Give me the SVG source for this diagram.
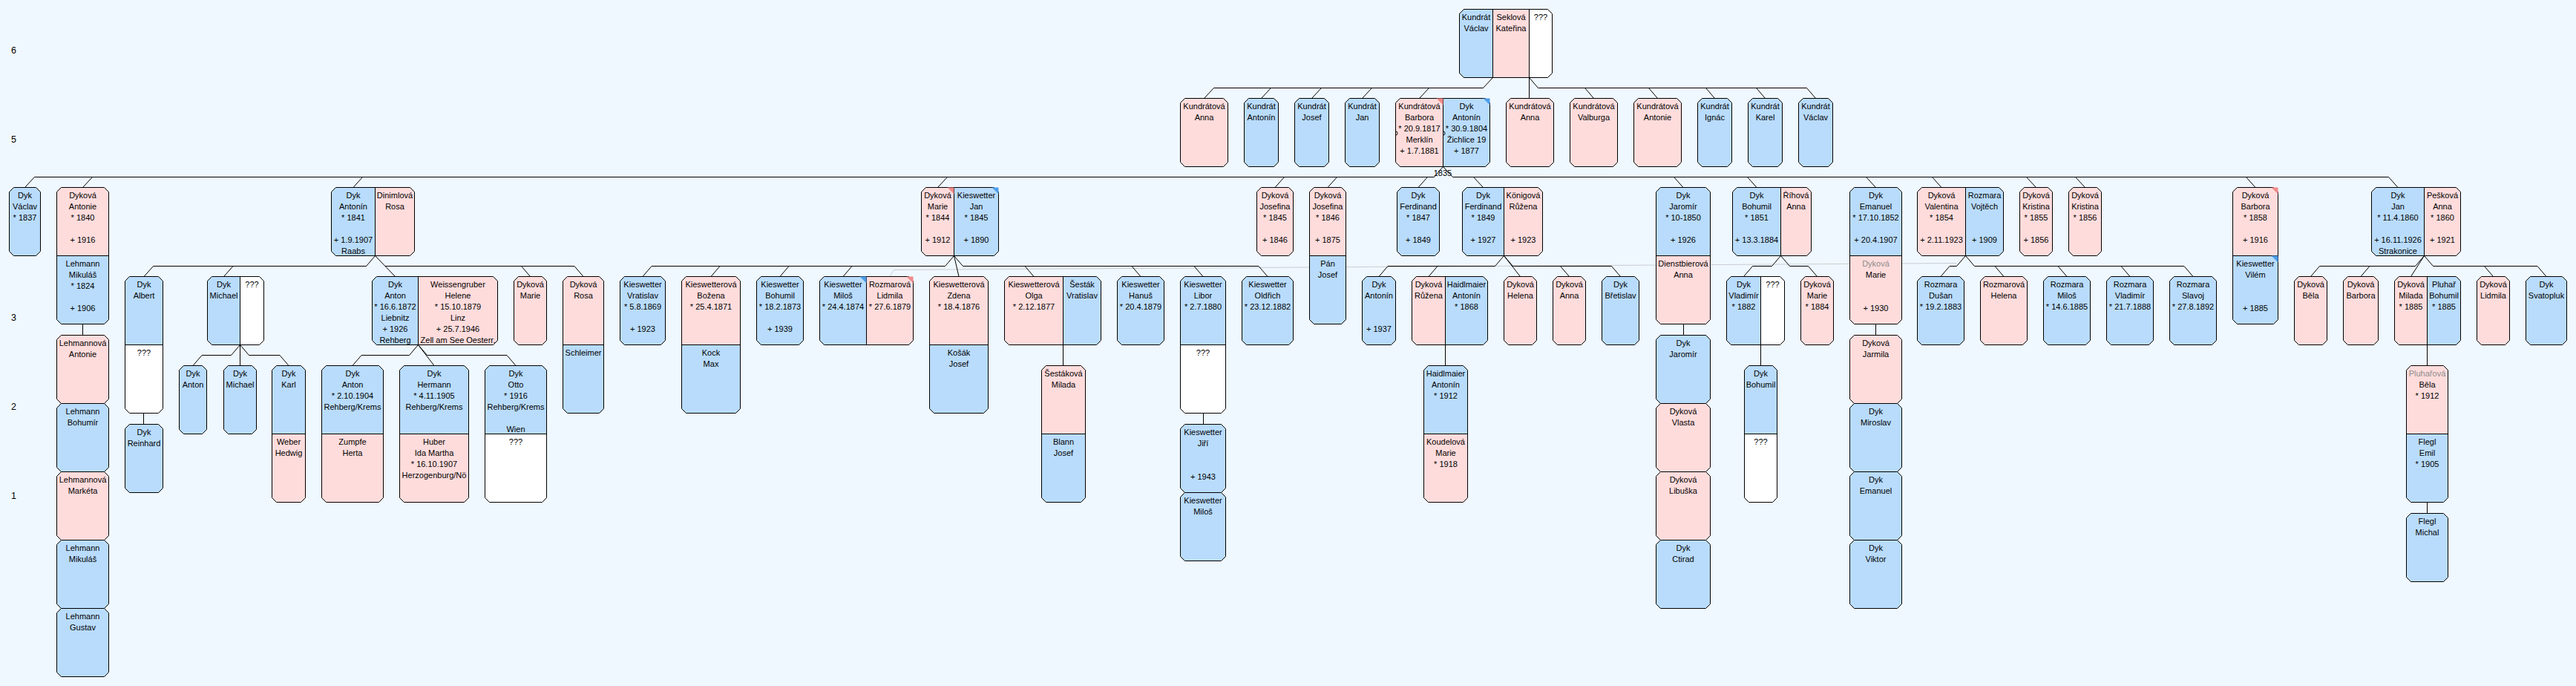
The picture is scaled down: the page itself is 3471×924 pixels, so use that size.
<svg xmlns="http://www.w3.org/2000/svg" width="3471" height="924" viewBox="0 0 3471 924">
<style>
.b{fill:#B9DCFC}.p{fill:#FFDCDC}.w{fill:#FFFFFF}
.n{stroke:#000;stroke-width:1}
.o{fill:none;stroke:#000;stroke-width:1}
.c{fill:none;stroke:#000;stroke-width:1}
.g{fill:none;stroke:#C8CDD2;stroke-width:1}
.mp{fill:#F08A8A}.mb{fill:#4E9EEA}
text{font-family:"Liberation Sans",Arial,sans-serif;font-size:11px;text-anchor:middle;fill:#000}
.gr{fill:#8C8C8C}
.lv{font-size:12.5px}
</style>
<rect width="3471" height="924" fill="#F0F8FF"/>
<g id="levels">
<text class="lv" x="18.5" y="72">6</text><text class="lv" x="18.5" y="192">5</text><text class="lv" x="18.5" y="312">4</text><text class="lv" x="18.5" y="432">3</text><text class="lv" x="18.5" y="552">2</text><text class="lv" x="18.5" y="672">1</text>
</g>
<g id="connectors" transform="translate(.5,.5)">
<path class="g" d="M1198.5,372L1204,363L2636,354"/>
<path class="c" d="M2011,104L1998,118H1635M1622,132L1635,118M1699,132L1712,118M1767,132L1780,118M1835,132L1848,118M1912,132L1925,118"/>
<path class="c" d="M2060,104V132M2060,104L2072,118H2434M2147,132L2135,118M2233,132L2221,118M2310,132L2298,118M2378,132L2366,118M2446,132L2434,118"/>
<path class="c" d="M1932,238L1944,224L1957,238M46,238H1932M1957,238H3218M33,252L46,238M111,252L124,238M475.5,252L488,238M1263,252L1276,238M1717.5,252L1730,238M1788.5,252L1801,238M1910.5,252L1923,238M1998,252L1985,238M2267.5,252L2255,238M2366.5,252L2354,238M2527,252L2514,238M2615.5,252L2603,238M2743,252L2730,238M2809,252L2796,238M3038.5,252L3026,238M3230.5,252L3218,238"/>
<path class="c" d="M505,344L493,358H206M193.5,372L206,358M301,372L313.5,358M505,344L532,372M518.5,358H773.5M714,372L702,358M785.5,372L773.5,358"/>
<path class="c" d="M1285,344L1273,358H877.5M865.5,372L877.5,358M957.5,372L969.5,358M1050.5,372L1062.5,358M1135.5,372L1147.5,358M1285,344L1291.5,372M1285,344L1297,358H1695.5M1392.5,372L1380.5,358M1536.5,372L1524.5,358M1620.5,372L1608.5,358M1707.5,372L1695.5,358"/>
<path class="c" d="M2026,344L2014,358H1869.5M1857.5,372L1869.5,358M1924.5,372L1936.5,358M2026,344L2048,372M2026,344L2038,358H2171M2114,372L2102,358M2183,372L2171,358"/>
<path class="c" d="M2399,344L2387,358H2361M2349,372L2361,358M2399,344L2411,358H2436M2448,372L2436,358"/>
<path class="c" d="M2648,344L2636,358H2626.5L2614.5,372M2648,344L2660,358H2942.5M2699.5,372L2687.5,358M2784.5,372L2772.5,358M2869.5,372L2857.5,358M2954.5,372L2942.5,358"/>
<path class="c" d="M3266,344L3254,358H3125M3113,372L3125,358M3180.5,372L3192.5,358M3266,344L3248,372M3266,344L3278,358H3418.5M3359,372L3347,358M3430.5,372L3418.5,358"/>
<path class="c" d="M323,464L311,478H271.5L259.5,492M323,464V492M323,464L335,478H376.5L388.5,492"/>
<path class="c" d="M563,464L551,478H486.5L474.5,492M563,464L584.5,492M563,464L575,478H682.5L694.5,492"/>
<path class="c" d="M1432,464V492M1947,464V492M2372,464V492M3270,464V492"/>
<path class="c" d="M111,436V451M193,556V571M1621,556V571M2268,436V451M2527,436V451M3270,676V691"/>
</g>
<text x="1944" y="237">1835</text>
<g id="nodes">
<g id="n-kundrat-vaclav-root" transform="translate(1966.5,12.5)">
<path class="w" d="M6,0H119L125,6V86L119,92H6L0,86V6Z"/><path class="b" d="M6,0H45V92H6L0,86V6Z"/><rect class="p" x="45" width="49" height="92"/>
<path class="o" d="M6,0H119L125,6V86L119,92H6L0,86V6ZM45,0V92M94,0V92"/><path class="o" stroke-width="2" d="M6,0H45V92H6L0,86V6Z"/>
<text><tspan x="22.5" y="14">Kundrát</tspan><tspan x="22.5" y="29">Václav</tspan><tspan x="69.5" y="14">Seklová</tspan><tspan x="69.5" y="29">Kateřina</tspan><tspan x="109.5" y="14">???</tspan></text>
</g>
<g id="n-kundratova-anna" transform="translate(1590.5,132.5)"><path class="p n" d="M6,0H58L64,6V86L58,92H6L0,86V6Z"/><text><tspan x="32" y="14">Kundrátová</tspan><tspan x="32" y="29">Anna</tspan></text></g>
<g id="n-kundrat-antonin" transform="translate(1676.5,132.5)"><path class="b n" d="M6,0H40L46,6V86L40,92H6L0,86V6Z"/><text><tspan x="23" y="14">Kundrát</tspan><tspan x="23" y="29">Antonín</tspan></text></g>
<g id="n-kundrat-josef" transform="translate(1744.5,132.5)"><path class="b n" d="M6,0H40L46,6V86L40,92H6L0,86V6Z"/><text><tspan x="23" y="14">Kundrát</tspan><tspan x="23" y="29">Josef</tspan></text></g>
<g id="n-kundrat-jan" transform="translate(1812.5,132.5)"><path class="b n" d="M6,0H40L46,6V86L40,92H6L0,86V6Z"/><text><tspan x="23" y="14">Kundrát</tspan><tspan x="23" y="29">Jan</tspan></text></g>
<g id="n-kundratova-barbora" transform="translate(1880.5,132.5)">
<path class="b" d="M6,0H121L127,6V86L121,92H6L0,86V6Z"/><path class="p" d="M6,0H64V92H6L0,86V6Z"/><path class="o" d="M6,0H121L127,6V86L121,92H6L0,86V6ZM64,0V92"/>
<path class="mp" d="M55,0H64V9Z"/><path class="mb" d="M118,0H127V9Z"/>
<path class="o" d="M0,44.5A2.5,2.5 0 0 1 0,49.5M64,44.5A2.5,2.5 0 0 1 64,49.5"/>
<text><tspan x="32" y="14">Kundrátová</tspan><tspan x="32" y="29">Barbora</tspan><tspan x="32" y="44">* 20.9.1817</tspan><tspan x="32" y="59">Merklín</tspan><tspan x="32" y="74">+ 1.7.1881</tspan><tspan x="95.5" y="14">Dyk</tspan><tspan x="95.5" y="29">Antonín</tspan><tspan x="95.5" y="44">* 30.9.1804</tspan><tspan x="95.5" y="59">Žichlice 19</tspan><tspan x="95.5" y="74">+ 1877</tspan></text>
</g>
<g id="n-kundratova-anna-2" transform="translate(2029.5,132.5)"><path class="p n" d="M6,0H58L64,6V86L58,92H6L0,86V6Z"/><text><tspan x="32" y="14">Kundrátová</tspan><tspan x="32" y="29">Anna</tspan></text></g>
<g id="n-kundratova-valburga" transform="translate(2115.5,132.5)"><path class="p n" d="M6,0H58L64,6V86L58,92H6L0,86V6Z"/><text><tspan x="32" y="14">Kundrátová</tspan><tspan x="32" y="29">Valburga</tspan></text></g>
<g id="n-kundratova-antonie" transform="translate(2201.5,132.5)"><path class="p n" d="M6,0H58L64,6V86L58,92H6L0,86V6Z"/><text><tspan x="32" y="14">Kundrátová</tspan><tspan x="32" y="29">Antonie</tspan></text></g>
<g id="n-kundrat-ignac" transform="translate(2287.5,132.5)"><path class="b n" d="M6,0H40L46,6V86L40,92H6L0,86V6Z"/><text><tspan x="23" y="14">Kundrát</tspan><tspan x="23" y="29">Ignác</tspan></text></g>
<g id="n-kundrat-karel" transform="translate(2355.5,132.5)"><path class="b n" d="M6,0H40L46,6V86L40,92H6L0,86V6Z"/><text><tspan x="23" y="14">Kundrát</tspan><tspan x="23" y="29">Karel</tspan></text></g>
<g id="n-kundrat-vaclav" transform="translate(2423.5,132.5)"><path class="b n" d="M6,0H40L46,6V86L40,92H6L0,86V6Z"/><text><tspan x="23" y="14">Kundrát</tspan><tspan x="23" y="29">Václav</tspan></text></g>
<g id="n-dyk-vaclav" transform="translate(12.5,252.5)"><path class="b n" d="M6,0H36L42,6V86L36,92H6L0,86V6Z"/><text><tspan x="21" y="14">Dyk</tspan><tspan x="21" y="29">Václav</tspan><tspan x="21" y="44">* 1837</tspan></text></g>
<g id="n-dykova-antonie" transform="translate(76.5,252.5)"><path class="b" d="M6,0H64L70,6V178L64,184H6L0,178V6Z"/><path class="p" d="M6,0H64L70,6V92H0V6Z"/><path class="o" d="M6,0H64L70,6V178L64,184H6L0,178V6ZM0,92H70"/>
<text><tspan x="35" y="14">Dyková</tspan><tspan x="35" y="29">Antonie</tspan><tspan x="35" y="44">* 1840</tspan><tspan x="35" y="74">+ 1916</tspan><tspan x="35" y="106">Lehmann</tspan><tspan x="35" y="121">Mikuláš</tspan><tspan x="35" y="136">* 1824</tspan><tspan x="35" y="166">+ 1906</tspan></text></g>
<g id="n-dyk-antonin-1841" transform="translate(446.5,252.5)"><path class="p" d="M6,0H106L112,6V86L106,92H6L0,86V6Z"/><path class="b" d="M6,0H59V92H6L0,86V6Z"/><path class="o" d="M6,0H106L112,6V86L106,92H6L0,86V6ZM59,0V92"/>
<text><tspan x="29.5" y="14">Dyk</tspan><tspan x="29.5" y="29">Antonín</tspan><tspan x="29.5" y="44">* 1841</tspan><tspan x="29.5" y="74">+ 1.9.1907</tspan><tspan x="29.5" y="89">Raabs</tspan><tspan x="85.5" y="14">Dinimlová</tspan><tspan x="85.5" y="29">Rosa</tspan></text></g>
<g id="n-dykova-marie-1844" transform="translate(1241.5,252.5)"><path class="b" d="M6,0H98L104,6V86L98,92H6L0,86V6Z"/><path class="p" d="M6,0H44V92H6L0,86V6Z"/><path class="o" d="M6,0H98L104,6V86L98,92H6L0,86V6ZM44,0V92"/>
<path class="mp" d="M35,0H44V9Z"/><path class="mb" d="M95,0H104V9Z"/>
<text><tspan x="22" y="14">Dyková</tspan><tspan x="22" y="29">Marie</tspan><tspan x="22" y="44">* 1844</tspan><tspan x="22" y="74">+ 1912</tspan><tspan x="74" y="14">Kieswetter</tspan><tspan x="74" y="29">Jan</tspan><tspan x="74" y="44">* 1845</tspan><tspan x="74" y="74">+ 1890</tspan></text></g>
<g id="n-dykova-josefina-1845" transform="translate(1693.5,252.5)"><path class="p n" d="M6,0H43L49,6V86L43,92H6L0,86V6Z"/><text><tspan x="24.5" y="14">Dyková</tspan><tspan x="24.5" y="29">Josefina</tspan><tspan x="24.5" y="44">* 1845</tspan><tspan x="24.5" y="74">+ 1846</tspan></text></g>
<g id="n-dykova-josefina-1846" transform="translate(1764.5,252.5)"><path class="b" d="M6,0H43L49,6V178L43,184H6L0,178V6Z"/><path class="p" d="M6,0H43L49,6V92H0V6Z"/><path class="o" d="M6,0H43L49,6V178L43,184H6L0,178V6ZM0,92H49"/>
<text><tspan x="24.5" y="14">Dyková</tspan><tspan x="24.5" y="29">Josefina</tspan><tspan x="24.5" y="44">* 1846</tspan><tspan x="24.5" y="74">+ 1875</tspan><tspan x="24.5" y="106">Pán</tspan><tspan x="24.5" y="121">Josef</tspan></text></g>
<g id="n-dyk-ferdinand-1847" transform="translate(1882.5,252.5)"><path class="b n" d="M6,0H51L57,6V86L51,92H6L0,86V6Z"/><text><tspan x="28.5" y="14">Dyk</tspan><tspan x="28.5" y="29">Ferdinand</tspan><tspan x="28.5" y="44">* 1847</tspan><tspan x="28.5" y="74">+ 1849</tspan></text></g>
<g id="n-dyk-ferdinand-1849" transform="translate(1970.5,252.5)"><path class="p" d="M6,0H102L108,6V86L102,92H6L0,86V6Z"/><path class="b" d="M6,0H56V92H6L0,86V6Z"/><path class="o" d="M6,0H102L108,6V86L102,92H6L0,86V6ZM56,0V92"/>
<text><tspan x="28" y="14">Dyk</tspan><tspan x="28" y="29">Ferdinand</tspan><tspan x="28" y="44">* 1849</tspan><tspan x="28" y="74">+ 1927</tspan><tspan x="82" y="14">Königová</tspan><tspan x="82" y="29">Růžena</tspan><tspan x="82" y="74">+ 1923</tspan></text></g>
<g id="n-dyk-jaromir-1850" transform="translate(2231.5,252.5)"><path class="p" d="M6,0H67L73,6V178L67,184H6L0,178V6Z"/><path class="b" d="M6,0H67L73,6V92H0V6Z"/><path class="o" d="M6,0H67L73,6V178L67,184H6L0,178V6ZM0,92H73"/>
<text><tspan x="36.5" y="14">Dyk</tspan><tspan x="36.5" y="29">Jaromír</tspan><tspan x="36.5" y="44">* 10-1850</tspan><tspan x="36.5" y="74">+ 1926</tspan><tspan x="36.5" y="106">Dienstbierová</tspan><tspan x="36.5" y="121">Anna</tspan></text></g>
<g id="n-dyk-bohumil-1851" transform="translate(2334.5,252.5)"><path class="p" d="M6,0H100L106,6V86L100,92H6L0,86V6Z"/><path class="b" d="M6,0H65V92H6L0,86V6Z"/><path class="o" d="M6,0H100L106,6V86L100,92H6L0,86V6ZM65,0V92"/>
<text><tspan x="32.5" y="14">Dyk</tspan><tspan x="32.5" y="29">Bohumil</tspan><tspan x="32.5" y="44">* 1851</tspan><tspan x="32.5" y="74">+ 13.3.1884</tspan><tspan x="85.5" y="14">Říhová</tspan><tspan x="85.5" y="29">Anna</tspan></text></g>
<g id="n-dyk-emanuel-1852" transform="translate(2492.5,252.5)"><path class="p" d="M6,0H64L70,6V178L64,184H6L0,178V6Z"/><path class="b" d="M6,0H64L70,6V92H0V6Z"/><path class="o" d="M6,0H64L70,6V178L64,184H6L0,178V6ZM0,92H70"/>
<text><tspan x="35" y="14">Dyk</tspan><tspan x="35" y="29">Emanuel</tspan><tspan x="35" y="44">* 17.10.1852</tspan><tspan x="35" y="74">+ 20.4.1907</tspan><tspan class="gr" x="35" y="106">Dyková</tspan><tspan x="35" y="121">Marie</tspan><tspan x="35" y="166">+ 1930</tspan></text></g>
<g id="n-dykova-valentina" transform="translate(2583.5,252.5)"><path class="b" d="M6,0H110L116,6V86L110,92H6L0,86V6Z"/><path class="p" d="M6,0H65V92H6L0,86V6Z"/><path class="o" d="M6,0H110L116,6V86L110,92H6L0,86V6ZM65,0V92"/>
<text><tspan x="32.5" y="14">Dyková</tspan><tspan x="32.5" y="29">Valentina</tspan><tspan x="32.5" y="44">* 1854</tspan><tspan x="32.5" y="74">+ 2.11.1923</tspan><tspan x="90.5" y="14">Rozmara</tspan><tspan x="90.5" y="29">Vojtěch</tspan><tspan x="90.5" y="74">+ 1909</tspan></text></g>
<g id="n-dykova-kristina-1855" transform="translate(2721.5,252.5)"><path class="p n" d="M6,0H38L44,6V86L38,92H6L0,86V6Z"/><text><tspan x="22" y="14">Dyková</tspan><tspan x="22" y="29">Kristina</tspan><tspan x="22" y="44">* 1855</tspan><tspan x="22" y="74">+ 1856</tspan></text></g>
<g id="n-dykova-kristina-1856" transform="translate(2787.5,252.5)"><path class="p n" d="M6,0H38L44,6V86L38,92H6L0,86V6Z"/><text><tspan x="22" y="14">Dyková</tspan><tspan x="22" y="29">Kristina</tspan><tspan x="22" y="44">* 1856</tspan></text></g>
<g id="n-dykova-barbora-1858" transform="translate(3008.5,252.5)"><path class="b" d="M6,0H55L61,6V178L55,184H6L0,178V6Z"/><path class="p" d="M6,0H55L61,6V92H0V6Z"/><path class="o" d="M6,0H55L61,6V178L55,184H6L0,178V6ZM0,92H61"/>
<path class="mp" d="M52,0H61V9Z"/><path class="mb" d="M52,92H61V101Z"/>
<text><tspan x="30.5" y="14">Dyková</tspan><tspan x="30.5" y="29">Barbora</tspan><tspan x="30.5" y="44">* 1858</tspan><tspan x="30.5" y="74">+ 1916</tspan><tspan x="30.5" y="106">Kieswetter</tspan><tspan x="30.5" y="121">Vilém</tspan><tspan x="30.5" y="166">+ 1885</tspan></text></g>
<g id="n-dyk-jan-1860" transform="translate(3195.5,252.5)"><path class="p" d="M6,0H114L120,6V86L114,92H6L0,86V6Z"/><path class="b" d="M6,0H71V92H6L0,86V6Z"/><path class="o" d="M6,0H114L120,6V86L114,92H6L0,86V6ZM71,0V92"/>
<text><tspan x="35.5" y="14">Dyk</tspan><tspan x="35.5" y="29">Jan</tspan><tspan x="35.5" y="44">* 11.4.1860</tspan><tspan x="35.5" y="74">+ 16.11.1926</tspan><tspan x="35.5" y="89">Strakonice</tspan><tspan x="95.5" y="14">Pešková</tspan><tspan x="95.5" y="29">Anna</tspan><tspan x="95.5" y="44">* 1860</tspan><tspan x="95.5" y="74">+ 1921</tspan></text></g>
<g id="n-dyk-albert" transform="translate(168.5,372.5)"><path class="w" d="M6,0H45L51,6V178L45,184H6L0,178V6Z"/><path class="b" d="M6,0H45L51,6V92H0V6Z"/><path class="o" d="M6,0H45L51,6V178L45,184H6L0,178V6ZM0,92H51"/>
<text><tspan x="25.5" y="14">Dyk</tspan><tspan x="25.5" y="29">Albert</tspan><tspan x="25.5" y="106">???</tspan></text></g>
<g id="n-dyk-michael" transform="translate(279.5,372.5)"><path class="w" d="M6,0H70L76,6V86L70,92H6L0,86V6Z"/><path class="b" d="M6,0H44V92H6L0,86V6Z"/><path class="o" d="M6,0H70L76,6V86L70,92H6L0,86V6ZM44,0V92"/>
<text><tspan x="22" y="14">Dyk</tspan><tspan x="22" y="29">Michael</tspan><tspan x="60" y="14">???</tspan></text></g>
<g id="n-dyk-anton-1872" transform="translate(501.5,372.5)"><path class="p" d="M6,0H163L169,6V86L163,92H6L0,86V6Z"/><path class="b" d="M6,0H62V92H6L0,86V6Z"/><path class="o" d="M6,0H163L169,6V86L163,92H6L0,86V6ZM62,0V92"/>
<text><tspan x="31" y="14">Dyk</tspan><tspan x="31" y="29">Anton</tspan><tspan x="31" y="44">* 16.6.1872</tspan><tspan x="31" y="59">Liebnitz</tspan><tspan x="31" y="74">+ 1926</tspan><tspan x="31" y="89">Rehberg</tspan><tspan x="115.5" y="14">Weissengruber</tspan><tspan x="115.5" y="29">Helene</tspan><tspan x="115.5" y="44">* 15.10.1879</tspan><tspan x="115.5" y="59">Linz</tspan><tspan x="115.5" y="74">+ 25.7.1946</tspan><tspan x="115.5" y="89">Zell am See Oesterr.</tspan></text></g>
<g id="n-dykova-marie" transform="translate(692.5,372.5)"><path class="p n" d="M6,0H38L44,6V86L38,92H6L0,86V6Z"/><text><tspan x="22" y="14">Dyková</tspan><tspan x="22" y="29">Marie</tspan></text></g>
<g id="n-dykova-rosa" transform="translate(758.5,372.5)"><path class="b" d="M6,0H49L55,6V178L49,184H6L0,178V6Z"/><path class="p" d="M6,0H49L55,6V92H0V6Z"/><path class="o" d="M6,0H49L55,6V178L49,184H6L0,178V6ZM0,92H55"/>
<text><tspan x="27.5" y="14">Dyková</tspan><tspan x="27.5" y="29">Rosa</tspan><tspan x="27.5" y="106">Schleimer</tspan></text></g>
<g id="n-kieswetter-vratislav" transform="translate(835.5,372.5)"><path class="b n" d="M6,0H55L61,6V86L55,92H6L0,86V6Z"/><text><tspan x="30.5" y="14">Kieswetter</tspan><tspan x="30.5" y="29">Vratislav</tspan><tspan x="30.5" y="44">* 5.8.1869</tspan><tspan x="30.5" y="74">+ 1923</tspan></text></g>
<g id="n-kieswetterova-bozena" transform="translate(918.5,372.5)"><path class="b" d="M6,0H73L79,6V178L73,184H6L0,178V6Z"/><path class="p" d="M6,0H73L79,6V92H0V6Z"/><path class="o" d="M6,0H73L79,6V178L73,184H6L0,178V6ZM0,92H79"/>
<text><tspan x="39.5" y="14">Kieswetterová</tspan><tspan x="39.5" y="29">Božena</tspan><tspan x="39.5" y="44">* 25.4.1871</tspan><tspan x="39.5" y="106">Kock</tspan><tspan x="39.5" y="121">Max</tspan></text></g>
<g id="n-kieswetter-bohumil" transform="translate(1019.5,372.5)"><path class="b n" d="M6,0H57L63,6V86L57,92H6L0,86V6Z"/><text><tspan x="31.5" y="14">Kieswetter</tspan><tspan x="31.5" y="29">Bohumil</tspan><tspan x="31.5" y="44">* 18.2.1873</tspan><tspan x="31.5" y="74">+ 1939</tspan></text></g>
<g id="n-kieswetter-milos" transform="translate(1104.5,372.5)"><path class="p" d="M6,0H120L126,6V86L120,92H6L0,86V6Z"/><path class="b" d="M6,0H63V92H6L0,86V6Z"/><path class="o" d="M6,0H120L126,6V86L120,92H6L0,86V6ZM63,0V92"/>
<path class="mb" d="M54,0H63V9Z"/><path class="mp" d="M117,0H126V9Z"/>
<text><tspan x="31.5" y="14">Kieswetter</tspan><tspan x="31.5" y="29">Miloš</tspan><tspan x="31.5" y="44">* 24.4.1874</tspan><tspan x="94.5" y="14">Rozmarová</tspan><tspan x="94.5" y="29">Lidmila</tspan><tspan x="94.5" y="44">* 27.6.1879</tspan></text></g>
<g id="n-kieswetterova-zdena" transform="translate(1252.5,372.5)"><path class="b" d="M6,0H73L79,6V178L73,184H6L0,178V6Z"/><path class="p" d="M6,0H73L79,6V92H0V6Z"/><path class="o" d="M6,0H73L79,6V178L73,184H6L0,178V6ZM0,92H79"/>
<text><tspan x="39.5" y="14">Kieswetterová</tspan><tspan x="39.5" y="29">Zdena</tspan><tspan x="39.5" y="44">* 18.4.1876</tspan><tspan x="39.5" y="106">Košák</tspan><tspan x="39.5" y="121">Josef</tspan></text></g>
<g id="n-kieswetterova-olga" transform="translate(1353.5,372.5)"><path class="b" d="M6,0H124L130,6V86L124,92H6L0,86V6Z"/><path class="p" d="M6,0H79V92H6L0,86V6Z"/><path class="o" d="M6,0H124L130,6V86L124,92H6L0,86V6ZM79,0V92"/>
<text><tspan x="39.5" y="14">Kieswetterová</tspan><tspan x="39.5" y="29">Olga</tspan><tspan x="39.5" y="44">* 2.12.1877</tspan><tspan x="104.5" y="14">Šesták</tspan><tspan x="104.5" y="29">Vratislav</tspan></text></g>
<g id="n-kieswetter-hanus" transform="translate(1505.5,372.5)"><path class="b n" d="M6,0H57L63,6V86L57,92H6L0,86V6Z"/><text><tspan x="31.5" y="14">Kieswetter</tspan><tspan x="31.5" y="29">Hanuš</tspan><tspan x="31.5" y="44">* 20.4.1879</tspan></text></g>
<g id="n-kieswetter-libor" transform="translate(1590.5,372.5)"><path class="w" d="M6,0H55L61,6V178L55,184H6L0,178V6Z"/><path class="b" d="M6,0H55L61,6V92H0V6Z"/><path class="o" d="M6,0H55L61,6V178L55,184H6L0,178V6ZM0,92H61"/>
<text><tspan x="30.5" y="14">Kieswetter</tspan><tspan x="30.5" y="29">Libor</tspan><tspan x="30.5" y="44">* 2.7.1880</tspan><tspan x="30.5" y="106">???</tspan></text></g>
<g id="n-kieswetter-oldrich" transform="translate(1673.5,372.5)"><path class="b n" d="M6,0H63L69,6V86L63,92H6L0,86V6Z"/><text><tspan x="34.5" y="14">Kieswetter</tspan><tspan x="34.5" y="29">Oldřich</tspan><tspan x="34.5" y="44">* 23.12.1882</tspan></text></g>
<g id="n-dyk-antonin-1937" transform="translate(1835.5,372.5)"><path class="b n" d="M6,0H39L45,6V86L39,92H6L0,86V6Z"/><text><tspan x="22.5" y="14">Dyk</tspan><tspan x="22.5" y="29">Antonín</tspan><tspan x="22.5" y="74">+ 1937</tspan></text></g>
<g id="n-dykova-ruzena" transform="translate(1902.5,372.5)"><path class="b" d="M6,0H96L102,6V86L96,92H6L0,86V6Z"/><path class="p" d="M6,0H45V92H6L0,86V6Z"/><path class="o" d="M6,0H96L102,6V86L96,92H6L0,86V6ZM45,0V92"/>
<text><tspan x="22.5" y="14">Dyková</tspan><tspan x="22.5" y="29">Růžena</tspan><tspan x="73.5" y="14">Haidlmaier</tspan><tspan x="73.5" y="29">Antonín</tspan><tspan x="73.5" y="44">* 1868</tspan></text></g>
<g id="n-dykova-helena" transform="translate(2026.5,372.5)"><path class="p n" d="M6,0H38L44,6V86L38,92H6L0,86V6Z"/><text><tspan x="22" y="14">Dyková</tspan><tspan x="22" y="29">Helena</tspan></text></g>
<g id="n-dykova-anna" transform="translate(2092.5,372.5)"><path class="p n" d="M6,0H38L44,6V86L38,92H6L0,86V6Z"/><text><tspan x="22" y="14">Dyková</tspan><tspan x="22" y="29">Anna</tspan></text></g>
<g id="n-dyk-bretislav" transform="translate(2158.5,372.5)"><path class="b n" d="M6,0H44L50,6V86L44,92H6L0,86V6Z"/><text><tspan x="25" y="14">Dyk</tspan><tspan x="25" y="29">Břetislav</tspan></text></g>
<g id="n-dyk-vladimir" transform="translate(2326.5,372.5)"><path class="w" d="M6,0H72L78,6V86L72,92H6L0,86V6Z"/><path class="b" d="M6,0H46V92H6L0,86V6Z"/><path class="o" d="M6,0H72L78,6V86L72,92H6L0,86V6ZM46,0V92"/>
<text><tspan x="23" y="14">Dyk</tspan><tspan x="23" y="29">Vladimír</tspan><tspan x="23" y="44">* 1882</tspan><tspan x="62" y="14">???</tspan></text></g>
<g id="n-dykova-marie-1884" transform="translate(2426.5,372.5)"><path class="p n" d="M6,0H38L44,6V86L38,92H6L0,86V6Z"/><text><tspan x="22" y="14">Dyková</tspan><tspan x="22" y="29">Marie</tspan><tspan x="22" y="44">* 1884</tspan></text></g>
<g id="n-rozmara-dusan" transform="translate(2583.5,372.5)"><path class="b n" d="M6,0H57L63,6V86L57,92H6L0,86V6Z"/><text><tspan x="31.5" y="14">Rozmara</tspan><tspan x="31.5" y="29">Dušan</tspan><tspan x="31.5" y="44">* 19.2.1883</tspan></text></g>
<g id="n-rozmarova-helena" transform="translate(2668.5,372.5)"><path class="p n" d="M6,0H57L63,6V86L57,92H6L0,86V6Z"/><text><tspan x="31.5" y="14">Rozmarová</tspan><tspan x="31.5" y="29">Helena</tspan></text></g>
<g id="n-rozmara-milos" transform="translate(2753.5,372.5)"><path class="b n" d="M6,0H57L63,6V86L57,92H6L0,86V6Z"/><text><tspan x="31.5" y="14">Rozmara</tspan><tspan x="31.5" y="29">Miloš</tspan><tspan x="31.5" y="44">* 14.6.1885</tspan></text></g>
<g id="n-rozmara-vladimir" transform="translate(2838.5,372.5)"><path class="b n" d="M6,0H57L63,6V86L57,92H6L0,86V6Z"/><text><tspan x="31.5" y="14">Rozmara</tspan><tspan x="31.5" y="29">Vladimír</tspan><tspan x="31.5" y="44">* 21.7.1888</tspan></text></g>
<g id="n-rozmara-slavoj" transform="translate(2923.5,372.5)"><path class="b n" d="M6,0H57L63,6V86L57,92H6L0,86V6Z"/><text><tspan x="31.5" y="14">Rozmara</tspan><tspan x="31.5" y="29">Slavoj</tspan><tspan x="31.5" y="44">* 27.8.1892</tspan></text></g>
<g id="n-dykova-bela" transform="translate(3091.5,372.5)"><path class="p n" d="M6,0H38L44,6V86L38,92H6L0,86V6Z"/><text><tspan x="22" y="14">Dyková</tspan><tspan x="22" y="29">Běla</tspan></text></g>
<g id="n-dykova-barbora" transform="translate(3157.5,372.5)"><path class="p n" d="M6,0H41L47,6V86L41,92H6L0,86V6Z"/><text><tspan x="23.5" y="14">Dyková</tspan><tspan x="23.5" y="29">Barbora</tspan></text></g>
<g id="n-dykova-milada" transform="translate(3226.5,372.5)"><path class="b" d="M6,0H83L89,6V86L83,92H6L0,86V6Z"/><path class="p" d="M6,0H44V92H6L0,86V6Z"/><path class="o" d="M6,0H83L89,6V86L83,92H6L0,86V6ZM44,0V92"/>
<text><tspan x="22" y="14">Dyková</tspan><tspan x="22" y="29">Milada</tspan><tspan x="22" y="44">* 1885</tspan><tspan x="66.5" y="14">Pluhař</tspan><tspan x="66.5" y="29">Bohumil</tspan><tspan x="66.5" y="44">* 1885</tspan></text></g>
<g id="n-dykova-lidmila" transform="translate(3337.5,372.5)"><path class="p n" d="M6,0H38L44,6V86L38,92H6L0,86V6Z"/><text><tspan x="22" y="14">Dyková</tspan><tspan x="22" y="29">Lidmila</tspan></text></g>
<g id="n-dyk-svatopluk" transform="translate(3403.5,372.5)"><path class="b n" d="M6,0H49L55,6V86L49,92H6L0,86V6Z"/><text><tspan x="27.5" y="14">Dyk</tspan><tspan x="27.5" y="29">Svatopluk</tspan></text></g>
<g id="n-dyk-anton-m" transform="translate(241.5,492.5)"><path class="b n" d="M6,0H31L37,6V86L31,92H6L0,86V6Z"/><text><tspan x="18.5" y="14">Dyk</tspan><tspan x="18.5" y="29">Anton</tspan></text></g>
<g id="n-dyk-michael-jr" transform="translate(301.5,492.5)"><path class="b n" d="M6,0H38L44,6V86L38,92H6L0,86V6Z"/><text><tspan x="22" y="14">Dyk</tspan><tspan x="22" y="29">Michael</tspan></text></g>
<g id="n-dyk-karl" transform="translate(366.5,492.5)"><path class="p" d="M6,0H39L45,6V178L39,184H6L0,178V6Z"/><path class="b" d="M6,0H39L45,6V92H0V6Z"/><path class="o" d="M6,0H39L45,6V178L39,184H6L0,178V6ZM0,92H45"/>
<text><tspan x="22.5" y="14">Dyk</tspan><tspan x="22.5" y="29">Karl</tspan><tspan x="22.5" y="106">Weber</tspan><tspan x="22.5" y="121">Hedwig</tspan></text></g>
<g id="n-dyk-anton-1904" transform="translate(433.5,492.5)"><path class="p" d="M6,0H77L83,6V178L77,184H6L0,178V6Z"/><path class="b" d="M6,0H77L83,6V92H0V6Z"/><path class="o" d="M6,0H77L83,6V178L77,184H6L0,178V6ZM0,92H83"/>
<text><tspan x="41.5" y="14">Dyk</tspan><tspan x="41.5" y="29">Anton</tspan><tspan x="41.5" y="44">* 2.10.1904</tspan><tspan x="41.5" y="59">Rehberg/Krems</tspan><tspan x="41.5" y="106">Zumpfe</tspan><tspan x="41.5" y="121">Herta</tspan></text></g>
<g id="n-dyk-hermann" transform="translate(538.5,492.5)"><path class="p" d="M6,0H87L93,6V178L87,184H6L0,178V6Z"/><path class="b" d="M6,0H87L93,6V92H0V6Z"/><path class="o" d="M6,0H87L93,6V178L87,184H6L0,178V6ZM0,92H93"/>
<text><tspan x="46.5" y="14">Dyk</tspan><tspan x="46.5" y="29">Hermann</tspan><tspan x="46.5" y="44">* 4.11.1905</tspan><tspan x="46.5" y="59">Rehberg/Krems</tspan><tspan x="46.5" y="106">Huber</tspan><tspan x="46.5" y="121">Ida Martha</tspan><tspan x="46.5" y="136">* 16.10.1907</tspan><tspan x="46.5" y="151">Herzogenburg/Nö</tspan></text></g>
<g id="n-dyk-otto" transform="translate(653.5,492.5)"><path class="w" d="M6,0H77L83,6V178L77,184H6L0,178V6Z"/><path class="b" d="M6,0H77L83,6V92H0V6Z"/><path class="o" d="M6,0H77L83,6V178L77,184H6L0,178V6ZM0,92H83"/>
<text><tspan x="41.5" y="14">Dyk</tspan><tspan x="41.5" y="29">Otto</tspan><tspan x="41.5" y="44">* 1916</tspan><tspan x="41.5" y="59">Rehberg/Krems</tspan><tspan x="41.5" y="89">Wien</tspan><tspan x="41.5" y="106">???</tspan></text></g>
<g id="n-sestakova-milada" transform="translate(1403.5,492.5)"><path class="b" d="M6,0H53L59,6V178L53,184H6L0,178V6Z"/><path class="p" d="M6,0H53L59,6V92H0V6Z"/><path class="o" d="M6,0H53L59,6V178L53,184H6L0,178V6ZM0,92H59"/>
<text><tspan x="29.5" y="14">Šestáková</tspan><tspan x="29.5" y="29">Milada</tspan><tspan x="29.5" y="106">Blann</tspan><tspan x="29.5" y="121">Josef</tspan></text></g>
<g id="n-haidlmaier-antonin" transform="translate(1918.5,492.5)"><path class="p" d="M6,0H53L59,6V178L53,184H6L0,178V6Z"/><path class="b" d="M6,0H53L59,6V92H0V6Z"/><path class="o" d="M6,0H53L59,6V178L53,184H6L0,178V6ZM0,92H59"/>
<text><tspan x="29.5" y="14">Haidlmaier</tspan><tspan x="29.5" y="29">Antonín</tspan><tspan x="29.5" y="44">* 1912</tspan><tspan x="29.5" y="106">Koudelová</tspan><tspan x="29.5" y="121">Marie</tspan><tspan x="29.5" y="136">* 1918</tspan></text></g>
<g id="n-dyk-bohumil-jr" transform="translate(2350.5,492.5)"><path class="w" d="M6,0H38L44,6V178L38,184H6L0,178V6Z"/><path class="b" d="M6,0H38L44,6V92H0V6Z"/><path class="o" d="M6,0H38L44,6V178L38,184H6L0,178V6ZM0,92H44"/>
<text><tspan x="22" y="14">Dyk</tspan><tspan x="22" y="29">Bohumil</tspan><tspan x="22" y="106">???</tspan></text></g>
<g id="n-pluharova-bela" transform="translate(3242.5,492.5)"><path class="b" d="M6,0H50L56,6V178L50,184H6L0,178V6Z"/><path class="p" d="M6,0H50L56,6V92H0V6Z"/><path class="o" d="M6,0H50L56,6V178L50,184H6L0,178V6ZM0,92H56"/>
<text><tspan class="gr" x="28" y="14">Pluhařová</tspan><tspan x="28" y="29">Běla</tspan><tspan x="28" y="44">* 1912</tspan><tspan x="28" y="106">Flegl</tspan><tspan x="28" y="121">Emil</tspan><tspan x="28" y="136">* 1905</tspan></text></g>
<g id="n-lehmannova-antonie" transform="translate(76.5,451.5)"><path class="p n" d="M6,0H64L70,6V86L64,92H6L0,86V6Z"/><text><tspan x="35" y="14">Lehmannová</tspan><tspan x="35" y="29">Antonie</tspan></text></g>
<g id="n-lehmann-bohumir" transform="translate(76.5,543.5)"><path class="b n" d="M6,0H64L70,6V86L64,92H6L0,86V6Z"/><text><tspan x="35" y="14">Lehmann</tspan><tspan x="35" y="29">Bohumír</tspan></text></g>
<g id="n-lehmannova-marketa" transform="translate(76.5,635.5)"><path class="p n" d="M6,0H64L70,6V86L64,92H6L0,86V6Z"/><text><tspan x="35" y="14">Lehmannová</tspan><tspan x="35" y="29">Markéta</tspan></text></g>
<g id="n-lehmann-mikulas" transform="translate(76.5,727.5)"><path class="b n" d="M6,0H64L70,6V86L64,92H6L0,86V6Z"/><text><tspan x="35" y="14">Lehmann</tspan><tspan x="35" y="29">Mikuláš</tspan></text></g>
<g id="n-lehmann-gustav" transform="translate(76.5,819.5)"><path class="b n" d="M6,0H64L70,6V86L64,92H6L0,86V6Z"/><text><tspan x="35" y="14">Lehmann</tspan><tspan x="35" y="29">Gustav</tspan></text></g>
<g id="n-dyk-reinhard" transform="translate(168.5,571.5)"><path class="b n" d="M6,0H45L51,6V86L45,92H6L0,86V6Z"/><text><tspan x="25.5" y="14">Dyk</tspan><tspan x="25.5" y="29">Reinhard</tspan></text></g>
<g id="n-kieswetter-jiri" transform="translate(1590.5,571.5)"><path class="b n" d="M6,0H55L61,6V86L55,92H6L0,86V6Z"/><text><tspan x="30.5" y="14">Kieswetter</tspan><tspan x="30.5" y="29">Jiří</tspan><tspan x="30.5" y="74">+ 1943</tspan></text></g>
<g id="n-kieswetter-milos-jr" transform="translate(1590.5,663.5)"><path class="b n" d="M6,0H55L61,6V86L55,92H6L0,86V6Z"/><text><tspan x="30.5" y="14">Kieswetter</tspan><tspan x="30.5" y="29">Miloš</tspan></text></g>
<g id="n-dyk-jaromir" transform="translate(2231.5,451.5)"><path class="b n" d="M6,0H67L73,6V86L67,92H6L0,86V6Z"/><text><tspan x="36.5" y="14">Dyk</tspan><tspan x="36.5" y="29">Jaromír</tspan></text></g>
<g id="n-dykova-vlasta" transform="translate(2231.5,543.5)"><path class="p n" d="M6,0H67L73,6V86L67,92H6L0,86V6Z"/><text><tspan x="36.5" y="14">Dyková</tspan><tspan x="36.5" y="29">Vlasta</tspan></text></g>
<g id="n-dykova-libuska" transform="translate(2231.5,635.5)"><path class="p n" d="M6,0H67L73,6V86L67,92H6L0,86V6Z"/><text><tspan x="36.5" y="14">Dyková</tspan><tspan x="36.5" y="29">Libuška</tspan></text></g>
<g id="n-dyk-ctirad" transform="translate(2231.5,727.5)"><path class="b n" d="M6,0H67L73,6V86L67,92H6L0,86V6Z"/><text><tspan x="36.5" y="14">Dyk</tspan><tspan x="36.5" y="29">Ctirad</tspan></text></g>
<g id="n-dykova-jarmila" transform="translate(2492.5,451.5)"><path class="p n" d="M6,0H64L70,6V86L64,92H6L0,86V6Z"/><text><tspan x="35" y="14">Dyková</tspan><tspan x="35" y="29">Jarmila</tspan></text></g>
<g id="n-dyk-miroslav" transform="translate(2492.5,543.5)"><path class="b n" d="M6,0H64L70,6V86L64,92H6L0,86V6Z"/><text><tspan x="35" y="14">Dyk</tspan><tspan x="35" y="29">Miroslav</tspan></text></g>
<g id="n-dyk-emanuel" transform="translate(2492.5,635.5)"><path class="b n" d="M6,0H64L70,6V86L64,92H6L0,86V6Z"/><text><tspan x="35" y="14">Dyk</tspan><tspan x="35" y="29">Emanuel</tspan></text></g>
<g id="n-dyk-viktor" transform="translate(2492.5,727.5)"><path class="b n" d="M6,0H64L70,6V86L64,92H6L0,86V6Z"/><text><tspan x="35" y="14">Dyk</tspan><tspan x="35" y="29">Viktor</tspan></text></g>
<g id="n-flegl-michal" transform="translate(3242.5,691.5)"><path class="b n" d="M6,0H50L56,6V86L50,92H6L0,86V6Z"/><text><tspan x="28" y="14">Flegl</tspan><tspan x="28" y="29">Michal</tspan></text></g>
</g>
</svg>
